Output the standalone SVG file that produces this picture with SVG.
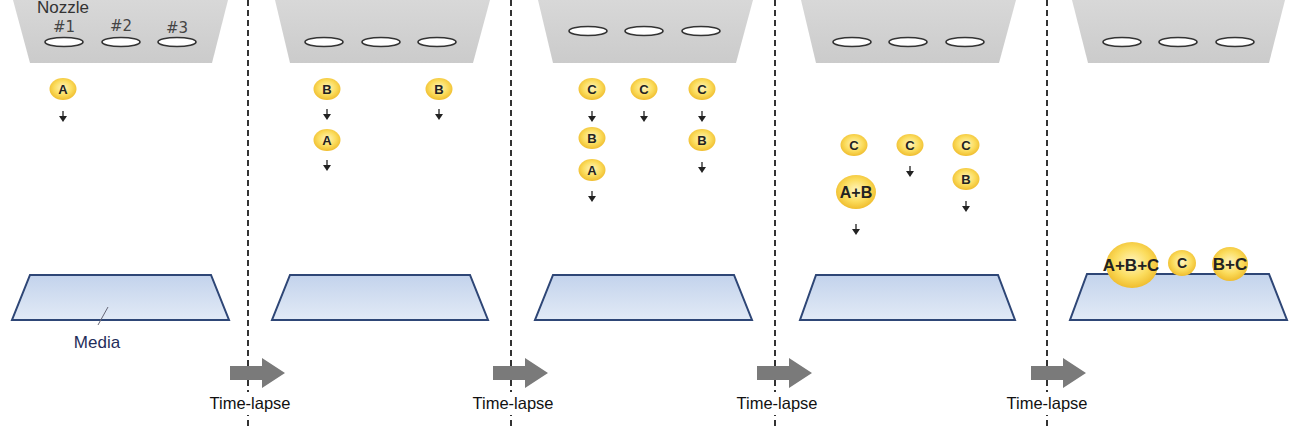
<svg xmlns="http://www.w3.org/2000/svg" xmlns:xlink="http://www.w3.org/1999/xlink" width="1300" height="426" viewBox="0 0 1300 426">
<defs>
<linearGradient id="ng" x1="0" y1="0" x2="0" y2="1"><stop offset="0" stop-color="#d8d8d8"/><stop offset="1" stop-color="#cbcbcb"/></linearGradient>
<linearGradient id="mg" x1="0" y1="0" x2="0" y2="1"><stop offset="0" stop-color="#c3d3ec"/><stop offset="1" stop-color="#e2eaf6"/></linearGradient>
<radialGradient id="dg" cx="50%" cy="45%" r="60%"><stop offset="0" stop-color="#fff5c0"/><stop offset="0.55" stop-color="#fbdc5c"/><stop offset="1" stop-color="#edb624"/></radialGradient>
<g id="da"><line x1="0" y1="-6" x2="0" y2="0" stroke="#222" stroke-width="1.3"/><path d="M-4,-1 L4,-1 L0,5 Z" fill="#222"/></g>
<path id="ta" d="M0,-7 H32 V-15 L55,0 L32,15 V7 H0 Z" fill="#7a7a7a"/>
<style>
.noz{fill:url(#ng);}
.hole{fill:#fff;stroke:#333;stroke-width:1.6;}
.media{fill:url(#mg);stroke:#2e4676;stroke-width:2;}
.drop{fill:url(#dg);}
.dl{font-family:"Liberation Sans",Arial,sans-serif;font-weight:bold;fill:#222;text-anchor:middle;}
.lbl{font-family:"Liberation Sans",Arial,sans-serif;font-size:16.5px;fill:#111;text-anchor:middle;}
.nl{font-family:"DejaVu Sans","Liberation Sans",sans-serif;font-size:15px;fill:#444;text-anchor:middle;}
.dash{stroke:#333;stroke-width:2;stroke-dasharray:6 4;}
.bg{fill:#fff;}
</style>
</defs>
<rect width="1300" height="426" fill="#fff"/>

<g id="dividers">
<line class="dash" x1="248" y1="0" x2="248" y2="426"/>
<line class="dash" x1="511" y1="0" x2="511" y2="426"/>
<line class="dash" x1="775" y1="0" x2="775" y2="426"/>
<line class="dash" x1="1047" y1="0" x2="1047" y2="426"/>
</g>

<g id="nozzle1">
<polygon class="noz" points="13,0 228,0 212,63 30,63"/>
<text x="37" y="13" font-family="Liberation Sans,Arial,sans-serif" font-size="17" fill="#333">Nozzle</text>
<text class="nl" x="64" y="32">#1</text><text class="nl" x="121" y="31">#2</text><text class="nl" x="177" y="33">#3</text>
<ellipse class="hole" cx="64" cy="42" rx="19" ry="4.5"/><ellipse class="hole" cx="121" cy="42" rx="19" ry="4.5"/><ellipse class="hole" cx="177" cy="42" rx="19" ry="4.5"/>
</g>
<g id="nozzle2">
<polygon class="noz" points="275,0 490,0 473,63 290,63"/>
<ellipse class="hole" cx="324" cy="42" rx="19" ry="4.5"/><ellipse class="hole" cx="381" cy="42" rx="19" ry="4.5"/><ellipse class="hole" cx="437" cy="42" rx="19" ry="4.5"/>
</g>
<g id="nozzle3">
<polygon class="noz" points="538,0 753,0 736,63 553,63"/>
<ellipse class="hole" cx="588" cy="31" rx="19" ry="4.5"/><ellipse class="hole" cx="644" cy="31" rx="19" ry="4.5"/><ellipse class="hole" cx="701" cy="31" rx="19" ry="4.5"/>
</g>
<g id="nozzle4">
<polygon class="noz" points="801,0 1016,0 999,63 816,63"/>
<ellipse class="hole" cx="852" cy="42" rx="19" ry="4.5"/><ellipse class="hole" cx="908" cy="42" rx="19" ry="4.5"/><ellipse class="hole" cx="965" cy="42" rx="19" ry="4.5"/>
</g>
<g id="nozzle5">
<polygon class="noz" points="1072,0 1285,0 1269,63 1088,63"/>
<ellipse class="hole" cx="1122" cy="42" rx="19" ry="4.5"/><ellipse class="hole" cx="1178" cy="42" rx="19" ry="4.5"/><ellipse class="hole" cx="1235" cy="42" rx="19" ry="4.5"/>
</g>

<g id="media1">
<polygon class="media" points="30,275 211,275 229,320 12,320"/>
<line x1="108" y1="307" x2="98" y2="325" stroke="#667" stroke-width="1"/>
<text x="97" y="348" font-family="Liberation Sans,Arial,sans-serif" font-size="17" fill="#1f2d5a" text-anchor="middle">Media</text>
</g>
<g id="media2"><polygon class="media" points="290,275 470,275 488,320 272,320"/></g>
<g id="media3"><polygon class="media" points="553,275 734,275 752,320 535,320"/></g>
<g id="media4"><polygon class="media" points="816,275 998,275 1015,320 800,320"/></g>
<g id="media5"><polygon class="media" points="1087,274 1269,274 1287,320 1070,320"/></g>

<g id="drops1">
<ellipse class="drop" cx="63" cy="89" rx="13.5" ry="11"/><text class="dl" x="63" y="94" font-size="13">A</text>
</g>
<g id="drops2">
<ellipse class="drop" cx="327" cy="89" rx="13.5" ry="11"/><text class="dl" x="327" y="94" font-size="13">B</text>
<ellipse class="drop" cx="327" cy="140" rx="13.5" ry="11"/><text class="dl" x="327" y="145" font-size="13">A</text>
<ellipse class="drop" cx="439" cy="89" rx="13.5" ry="11"/><text class="dl" x="439" y="94" font-size="13">B</text>
</g>
<g id="drops3">
<ellipse class="drop" cx="592" cy="89" rx="13.5" ry="11"/><text class="dl" x="592" y="94" font-size="13">C</text>
<ellipse class="drop" cx="644" cy="89" rx="13.5" ry="11"/><text class="dl" x="644" y="94" font-size="13">C</text>
<ellipse class="drop" cx="702" cy="89" rx="13.5" ry="11"/><text class="dl" x="702" y="94" font-size="13">C</text>
<ellipse class="drop" cx="592" cy="138" rx="13.5" ry="11"/><text class="dl" x="592" y="143" font-size="13">B</text>
<ellipse class="drop" cx="702" cy="140" rx="13.5" ry="11"/><text class="dl" x="702" y="145" font-size="13">B</text>
<ellipse class="drop" cx="592" cy="170" rx="13.5" ry="11"/><text class="dl" x="592" y="175" font-size="13">A</text>
</g>
<g id="drops4">
<ellipse class="drop" cx="854" cy="145" rx="13.5" ry="11"/><text class="dl" x="854" y="150" font-size="13">C</text>
<ellipse class="drop" cx="910" cy="145" rx="13.5" ry="11"/><text class="dl" x="910" y="150" font-size="13">C</text>
<ellipse class="drop" cx="966" cy="145" rx="13.5" ry="11"/><text class="dl" x="966" y="150" font-size="13">C</text>
<ellipse class="drop" cx="856" cy="192" rx="20" ry="17"/><text class="dl" x="856" y="198" font-size="16">A+B</text>
<ellipse class="drop" cx="966" cy="179" rx="13.5" ry="11"/><text class="dl" x="966" y="184" font-size="13">B</text>
</g>
<g id="drops5">
<ellipse class="drop" cx="1132" cy="265" rx="26" ry="23"/><text class="dl" x="1131" y="271" font-size="17">A+B+C</text>
<ellipse class="drop" cx="1182" cy="263" rx="14" ry="13"/><text class="dl" x="1182" y="268" font-size="14">C</text>
<ellipse class="drop" cx="1230" cy="264" rx="18" ry="17"/><text class="dl" x="1230" y="270" font-size="17">B+C</text>
</g>

<g id="connectors">
<use xlink:href="#da" x="63" y="117"/>
<use xlink:href="#da" x="327" y="115"/><use xlink:href="#da" x="327" y="166"/><use xlink:href="#da" x="439" y="115"/>
<use xlink:href="#da" x="592" y="117"/><use xlink:href="#da" x="644" y="117"/><use xlink:href="#da" x="702" y="117"/>
<use xlink:href="#da" x="592" y="197"/><use xlink:href="#da" x="702" y="168"/>
<use xlink:href="#da" x="910" y="172"/><use xlink:href="#da" x="966" y="207"/><use xlink:href="#da" x="856" y="230"/>
<use xlink:href="#ta" x="230" y="373"/>
<use xlink:href="#ta" x="493" y="373"/>
<use xlink:href="#ta" x="757" y="373"/>
<use xlink:href="#ta" x="1031" y="373"/>
</g>

<g id="labels">
<rect class="bg" x="206" y="392" width="88" height="23"/>
<rect class="bg" x="469" y="392" width="88" height="23"/>
<rect class="bg" x="733" y="392" width="88" height="23"/>
<rect class="bg" x="1003" y="392" width="88" height="23"/>
<text class="lbl" x="250" y="409">Time-lapse</text>
<text class="lbl" x="513" y="409">Time-lapse</text>
<text class="lbl" x="777" y="409">Time-lapse</text>
<text class="lbl" x="1047" y="409">Time-lapse</text>
</g>
</svg>
